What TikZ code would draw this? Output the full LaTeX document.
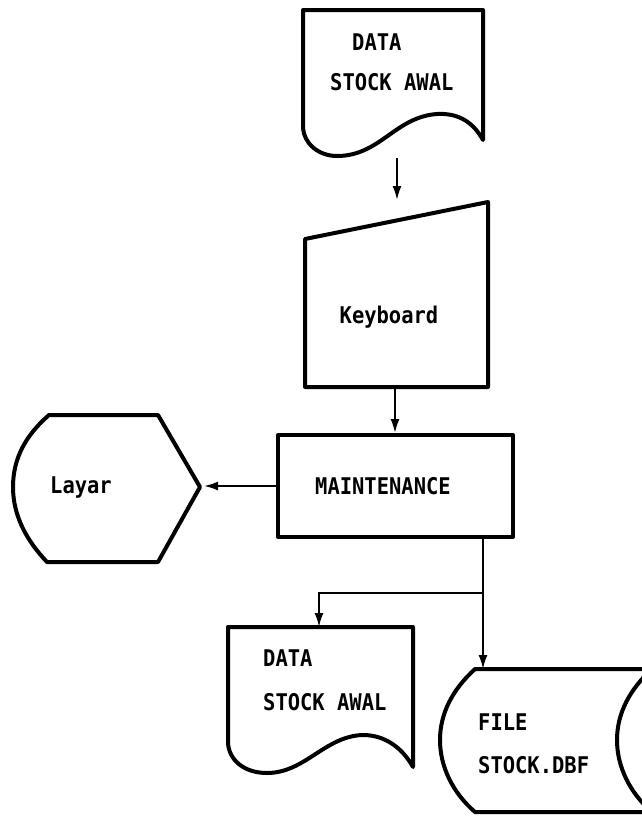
\documentclass[tikz,border=0pt]{standalone}
\usepackage{fontspec}
\newfontfamily\dmfont[FakeStretch=0.89]{DejaVu Sans Mono}
\usetikzlibrary{arrows.meta}
\begin{document}
\begin{tikzpicture}[x=1pt,y=-1pt,
  shapeline/.style={draw=black,line width=4pt,line join=round},
  conn/.style={draw=black,line width=2pt,-{Latex[length=14pt,width=9pt]}},
  plain/.style={draw=black,line width=2pt},
  lbl/.style={anchor=west,inner sep=0pt,font=\dmfont\bfseries\fontsize{23}{23}\selectfont}]
\useasboundingbox (0,0) rectangle (642,817);
\fill[white] (0,0) rectangle (642,817);

% top document
\draw[shapeline] (303,10) -- (483,10) -- (483,140)
  .. controls (472,120) and (456,113) .. (437,114)
  .. controls (395,117) and (380,156) .. (337,156)
  .. controls (318,156) and (304,143) .. (303,128) -- cycle;
\node[lbl] (d1a) at (352,42) {DATA};
\node[lbl] (d1b) at (330,82) {STOCK AWAL};

% keyboard (manual input)
\draw[shapeline] (305,239) -- (488,202) -- (488,387) -- (305,387) -- cycle;
\node[lbl,anchor=center] (kb) at (389,317) {Keyboard};

% maintenance process
\node[shapeline,rectangle,minimum width=235pt,minimum height=102pt,inner sep=0pt] (mt) at (395.5,486) {};
\node[lbl] (mtt) at (315,486) {MAINTENANCE};

% display Layar
\draw[shapeline] (49,415) -- (158,415) -- (200,487) -- (158,562) -- (47,562)
  .. controls (26,540) and (13,515) .. (13,487)
  .. controls (13,458) and (26,435) .. (49,415) -- cycle;
\node[lbl] (ly) at (50,487) {Layar};

% bottom document
\draw[shapeline] (228,627) -- (413,627) -- (413,767)
  .. controls (403,749) and (386,735) .. (363,735)
  .. controls (325,736) and (305,773) .. (267,773)
  .. controls (244,773) and (229,760) .. (228,743) -- cycle;
\node[lbl] (d2a) at (263,658) {DATA};
\node[lbl] (d2b) at (263,702) {STOCK AWAL};

% stored data file
\begin{scope}
\clip (0,0) rectangle (642,817);
\draw[shapeline] (660,669) -- (475,669)
  .. controls (452,690) and (440,714) .. (440,740)
  .. controls (440,767) and (453,793) .. (475,812) -- (660,812);
\draw[shapeline] (652,669)
  .. controls (629,690) and (617,714) .. (617,740)
  .. controls (617,767) and (630,793) .. (652,812);
\end{scope}
\node[lbl] (f1) at (478,722) {FILE};
\node[lbl] (f2) at (478,765) {STOCK.DBF};

% connector coordinates
\coordinate (c1s) at (397,158);
\coordinate (c1e) at (397,200);
\coordinate (kbb) at (395,387);
\coordinate (mtb) at (483,537);
\coordinate (br) at (483,593);
\coordinate (bl) at (319,593);
\coordinate (d2t) at (319,627);
\coordinate (ft) at (483,669);
\coordinate (lyt) at (204,486);

\draw[conn] (c1s) -- (c1e);
\draw[conn] (kbb) -- (mt.north -| kbb);
\draw[conn] (mt.west) -- (lyt);
\draw[plain] (mtb) -- (br);
\draw[conn] (br) -- (bl) -- (d2t);
\draw[conn] (br) -- (ft);
\end{tikzpicture}
\end{document}
